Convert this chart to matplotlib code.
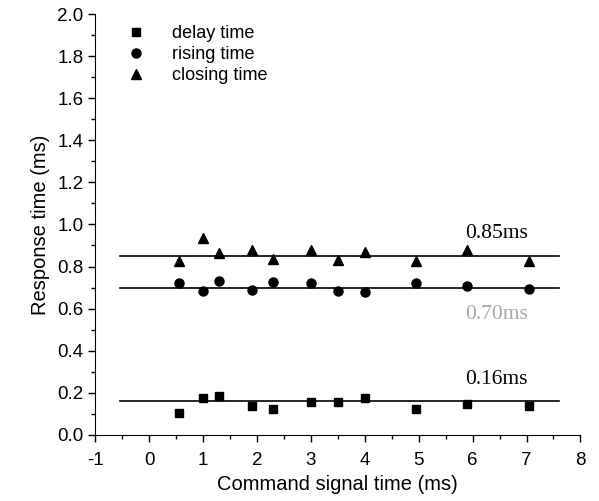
import matplotlib
matplotlib.use("Agg")
import matplotlib.pyplot as plt
import matplotlib.ticker as ticker

# command signal time (ms), same for every series
signal_time = [0.55, 1.0, 1.3, 1.9, 2.3, 3.0, 3.5, 4.0, 4.95, 5.9, 7.05]

delay_time = [0.106, 0.176, 0.185, 0.135, 0.124, 0.158, 0.158, 0.177, 0.122, 0.149, 0.138]
rising_time = [0.724, 0.683, 0.733, 0.689, 0.725, 0.724, 0.683, 0.681, 0.724, 0.709, 0.692]
closing_time = [0.828, 0.934, 0.866, 0.879, 0.835, 0.879, 0.831, 0.871, 0.827, 0.879, 0.827]

# average levels and their labels
level_values = [0.16, 0.70, 0.85]
level_labels = ["0.16ms", "0.70ms", "0.85ms"]
level_colors = ["black", "#a8a8a8", "black"]
level_label_y = [0.261, 0.57, 0.955]
level_span = [-0.55, 7.6]

plt.rcParams['font.family'] = ['Liberation Sans', 'DejaVu Sans']
plt.rcParams['axes.unicode_minus'] = False

fig = plt.figure(figsize=(5.99, 5.01), dpi=100)
ax = fig.add_axes([0.159, 0.132, 0.81, 0.84])

for val in level_values:
    ax.plot(level_span, [val, val], color='black', lw=1.2, zorder=1)

ax.plot(signal_time, delay_time, ls='none', marker='s', ms=6, color='black', label='delay time', zorder=3)
ax.plot(signal_time, rising_time, ls='none', marker='o', ms=6.5, color='black', label='rising time', zorder=3)
ax.plot(signal_time, closing_time, ls='none', marker='^', ms=7, color='black', label='closing time', zorder=3)

for txt, yy, col in zip(level_labels, level_label_y, level_colors):
    ax.text(6.44, yy, txt, ha='center', va='center', fontsize=15.5,
            family=['Liberation Serif', 'DejaVu Serif'], color=col)

ax.set_xlim(-1, 8)
ax.set_ylim(0, 2.0)
ax.xaxis.set_major_locator(ticker.MultipleLocator(1))
ax.xaxis.set_minor_locator(ticker.MultipleLocator(0.5))
ax.yaxis.set_major_locator(ticker.MultipleLocator(0.2))
ax.yaxis.set_minor_locator(ticker.MultipleLocator(0.1))
ax.yaxis.set_major_formatter(ticker.FormatStrFormatter('%.1f'))
ax.tick_params(which='major', direction='out', length=5, width=1, labelsize=13.5)
ax.tick_params(axis='x', which='major', pad=7)
ax.tick_params(which='minor', direction='out', length=3, width=1)

ax.spines['top'].set_visible(False)
ax.spines['right'].set_visible(False)

ax.set_xlabel('Command signal time (ms)', fontsize=14.5, labelpad=5)
ax.set_ylabel('Response time (ms)', fontsize=14.5, labelpad=5)

ax.legend(loc='upper left', bbox_to_anchor=(0.055, 0.99), frameon=False, fontsize=13,
          handlelength=0.8, handletextpad=1.6, labelspacing=0.22, borderaxespad=0)

plt.savefig('out.png', dpi=100)
